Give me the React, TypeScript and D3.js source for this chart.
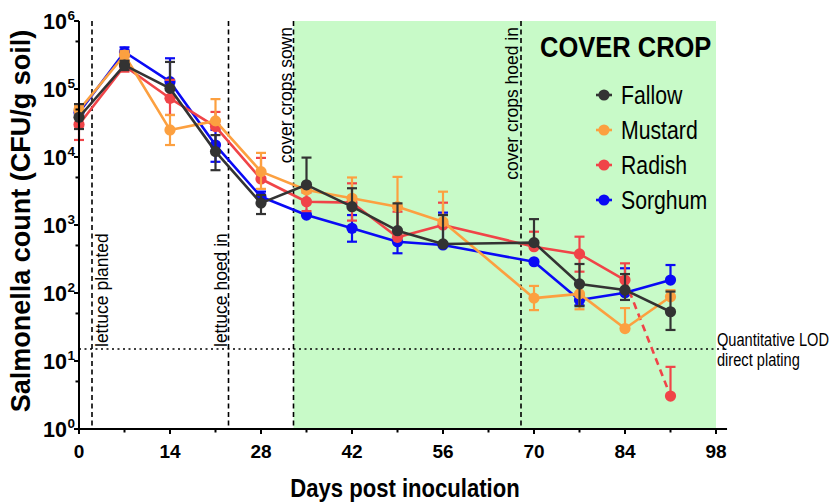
import React from 'react';
import * as d3 from 'd3';

// Sampling days (days post inoculation)
const days = [0, 7, 14, 21, 28, 35, 42, 49, 56, 70, 77, 84, 91];

// Salmonella counts, CFU/g soil: mean and error-bar ends (null = no bar drawn on that side)
const fallowMean = [3.84e4, 2.25e5, 1.02e5, 1.2e4, 2.1e3, 3.9e3, 1.86e3, 824, 526, 550, 136, 111, 53];
const fallowHi = [6.0e4, 2.6e5, 2.5e5, 2.1e4, 2.76e3, 9.8e3, 3.47e3, 2.08e3, 1.4e3, 1.22e3, 267, 190, 105];
const fallowLo = [2.58e4, 1.9e5, null, 6.4e3, 1.45e3, null, null, null, null, null, 64, 79, 28.6];

const mustardMean = [4.9e4, 3.16e5, 2.5e4, 3.4e4, 6.1e3, 3.27e3, 2.47e3, 1.86e3, 1.12e3, 84, 97, 30, 88];
const mustardHi = [5.6e4, 3.6e5, 4.15e4, 7.1e4, 1.15e4, null, 5.0e3, 5.1e3, 3.09e3, 127, 140, 60, 110];
const mustardLo = [4.2e4, 2.7e5, 1.5e4, null, 3.4e3, null, null, null, null, 56, 57.6, null, null];

const radishMean = [3.0e4, 2.18e5, 7.3e4, 2.8e4, 4.75e3, 2.2e3, 2.13e3, 659, 1.0e3, 480, 375, 155, 3.05];
const radishHi = [4.2e4, 2.6e5, 1.36e5, 4.6e4, 9.7e3, 3.0e3, 4.1e3, 1.57e3, 2.13e3, 797, 673, 273, 8.2];
const radishLo = [1.78e4, 1.8e5, 4.15e4, null, null, 1.6e3, 1.16e3, null, null, null, 206, null, null];

const sorghumMean = [4.5e4, 3.5e5, 1.28e5, 1.5e4, 2.6e3, 1.4e3, 894, 568, 508, 288, 79, 101, 155];
const sorghumHi = [5.2e4, 4.1e5, 2.83e5, 2.5e4, 3.1e3, null, 1.4e3, null, 1.52e3, null, 92, 231, 258];
const sorghumLo = [3.8e4, 3.0e5, null, 8.5e3, 2.1e3, null, 568, 384, null, null, 66, null, null];

// Field events (day of event)
const eventDays = [2, 23, 33, 68];
const eventLabels = ['lettuce planted', 'lettuce hoed in', 'cover crops sown', 'cover crops hoed in'];

// Quantitative limit of detection (direct plating), CFU/g
const lodValue = 15;
const lodLabels = ['Quantitative LOD', 'direct plating'];

// Cover-crop period shading
const coverStart = 33;
const coverEnd = 98;

const xTicks = [0, 14, 28, 42, 56, 70, 84, 98];
const xMinorTicks = [7, 21, 35, 49, 63, 77, 91];
const yExponents = [0, 1, 2, 3, 4, 5, 6];

const legendTitle = 'COVER CROP';
const xTitle = 'Days post inoculation';
const yTitle = 'Salmonella count (CFU/g soil)';

type Series = {
  name: string;
  color: string;
  mean: number[];
  hi: (number | null)[];
  lo: (number | null)[];
  dashedFromDay?: number;
};

// drawing order (back to front)
const series: Series[] = [
  { name: 'Sorghum', color: '#0a0af5', mean: sorghumMean, hi: sorghumHi, lo: sorghumLo },
  { name: 'Radish', color: '#f04448', mean: radishMean, hi: radishHi, lo: radishLo, dashedFromDay: 84 },
  { name: 'Mustard', color: '#fca040', mean: mustardMean, hi: mustardHi, lo: mustardLo },
  { name: 'Fallow', color: '#333333', mean: fallowMean, hi: fallowHi, lo: fallowLo },
];
const legendOrder = ['Fallow', 'Mustard', 'Radish', 'Sorghum'];

const W = 831;
const H = 504;
const FONT = 'Liberation Sans, Arial, Helvetica, sans-serif';
const NARROW = 0.85;

export default function App() {
  const x = d3.scaleLinear().domain([0, 98]).range([79, 716]);
  const y = d3.scaleLog().domain([1, 1e6]).range([429, 21]);
  const x0 = x(0);
  const y0 = y(1);
  const yTop = y(1e6);
  const axisRight = x(99.7);

  const line = d3
    .line<[number, number]>()
    .x((d) => x(d[0]))
    .y((d) => y(d[1]));

  const capW = 5;

  const renderSeries = (s: Series) => {
    const pts: [number, number][] = days.map((d, i) => [d, s.mean[i]]);
    let solid = pts;
    let dashed: [number, number][] = [];
    if (s.dashedFromDay !== undefined) {
      const k = days.indexOf(s.dashedFromDay);
      solid = pts.slice(0, k + 1);
      dashed = pts.slice(k);
    }
    return (
      <g key={s.name}>
        <path d={line(solid) || ''} fill="none" stroke={s.color} strokeWidth={2.6} strokeLinejoin="round" />
        {dashed.length > 1 && (
          <path d={line(dashed) || ''} fill="none" stroke={s.color} strokeWidth={2.6} strokeDasharray="7,5" />
        )}
        {days.map((d, i) => {
          const cx = x(d);
          const hi = s.hi[i];
          const lo = s.lo[i];
          const yHi = hi != null ? y(hi) : y(s.mean[i]);
          const yLo = lo != null ? y(lo) : y(s.mean[i]);
          return (
            <g key={d} stroke={s.color} strokeWidth={2.2}>
              <line x1={cx} x2={cx} y1={yHi} y2={yLo} />
              {hi != null && <line x1={cx - capW} x2={cx + capW} y1={yHi} y2={yHi} />}
              {lo != null && <line x1={cx - capW} x2={cx + capW} y1={yLo} y2={yLo} />}
            </g>
          );
        })}
        {days.map((d, i) => (
          <circle key={'m' + d} cx={x(d)} cy={y(s.mean[i])} r={5.6} fill={s.color} />
        ))}
      </g>
    );
  };

  const narrow = (
    tx: number,
    ty: number,
    txt: string,
    size: number,
    weight: string | number,
    anchor = 'start',
    squeeze = NARROW
  ) => (
    <text
      transform={`translate(${tx},${ty}) scale(${squeeze},1)`}
      fontSize={size}
      fontWeight={weight}
      fontFamily={FONT}
      textAnchor={anchor}
      fill="#000"
    >
      {txt}
    </text>
  );

  // event label placement: offset from the line, anchored at bottom or top
  const eventPlacement = [
    { dx: 16, bottom: true },
    { dx: -2, bottom: true },
    { dx: -2, bottom: false },
    { dx: -3, bottom: false },
  ];

  const lodY = y(lodValue);

  return (
    <svg width={W} height={H} style={{ position: 'absolute', left: 0, top: 0, background: '#fff' }}>
      {/* cover-crop period */}
      <rect x={x(coverStart)} y={yTop} width={x(coverEnd) - x(coverStart)} height={y0 - yTop} fill="#c8fac8" />

      {/* event lines */}
      {eventDays.map((d) => (
        <line key={d} x1={x(d)} x2={x(d)} y1={yTop} y2={y0} stroke="#000" strokeWidth={1.6} strokeDasharray="5,3.5" />
      ))}
      {eventDays.map((d, i) => {
        const p = eventPlacement[i];
        const tx = x(d) + p.dx;
        const ty = p.bottom ? 347 : 27;
        return (
          <text
            key={'t' + d}
            transform={`translate(${tx},${ty}) rotate(-90)`}
            fontSize={17.5}
            fontFamily={FONT}
            textAnchor={p.bottom ? 'start' : 'end'}
            fill="#000"
          >
            {eventLabels[i]}
          </text>
        );
      })}

      {/* LOD */}
      <line x1={x0} x2={axisRight} y1={lodY} y2={lodY} stroke="#000" strokeWidth={1.6} strokeDasharray="2,3.5" />
      {narrow(717, lodY - 3, lodLabels[0], 18.5, 'normal', 'start', 0.79)}
      {narrow(717, lodY + 17, lodLabels[1], 18.5, 'normal', 'start', 0.79)}

      {/* data */}
      {series.map(renderSeries)}

      {/* axes */}
      <line x1={x0} x2={x0} y1={yTop} y2={y0} stroke="#000" strokeWidth={2} />
      <line x1={x0 - 1} x2={axisRight} y1={y0} y2={y0} stroke="#000" strokeWidth={2} />
      {xTicks.map((t) => (
        <g key={'xt' + t}>
          <line x1={x(t)} x2={x(t)} y1={y0} y2={y0 + 5} stroke="#000" strokeWidth={2} />
          <text x={x(t)} y={458} fontSize={19} fontWeight="bold" fontFamily={FONT} textAnchor="middle">
            {t}
          </text>
        </g>
      ))}
      {xMinorTicks.map((t) => (
        <line key={'xm' + t} x1={x(t)} x2={x(t)} y1={y0} y2={y0 + 3.5} stroke="#000" strokeWidth={2} />
      ))}
      {yExponents.map((e) => {
        const ty = y(Math.pow(10, e));
        return (
          <g key={'yt' + e}>
            <line x1={x0 - 5} x2={x0} y1={ty} y2={ty} stroke="#000" strokeWidth={2} />
            <text x={67} y={ty + 7.5} fontSize={21.5} fontWeight="bold" fontFamily={FONT} textAnchor="end">
              10
            </text>
            <text x={67.5} y={ty - 1} fontSize={13.5} fontWeight="bold" fontFamily={FONT}>
              {e}
            </text>
          </g>
        );
      })}
      {yExponents.slice(0, -1).map((e) => {
        const ty = y(5 * Math.pow(10, e));
        return <line key={'ym' + e} x1={x0 - 3.5} x2={x0} y1={ty} y2={ty} stroke="#000" strokeWidth={2} />;
      })}

      {/* axis titles */}
      {narrow(405, 497, xTitle, 26, 'bold', 'middle')}
      <text
        transform={`translate(30,221) rotate(-90)`}
        fontSize={27}
        fontWeight="bold"
        fontFamily={FONT}
        textAnchor="middle"
      >
        {yTitle}
      </text>

      {/* legend */}
      {narrow(540, 57, legendTitle, 30, 'bold')}
      {legendOrder.map((name, i) => {
        const s = series.find((q) => q.name === name)!;
        const ly = 95 + i * 35;
        return (
          <g key={'lg' + name}>
            <line x1={596} x2={612} y1={ly} y2={ly} stroke={s.color} strokeWidth={2.6} />
            <circle cx={604} cy={ly} r={5.6} fill={s.color} />
            {narrow(621, ly + 9, name, 25, 'normal')}
          </g>
        );
      })}
    </svg>
  );
}
